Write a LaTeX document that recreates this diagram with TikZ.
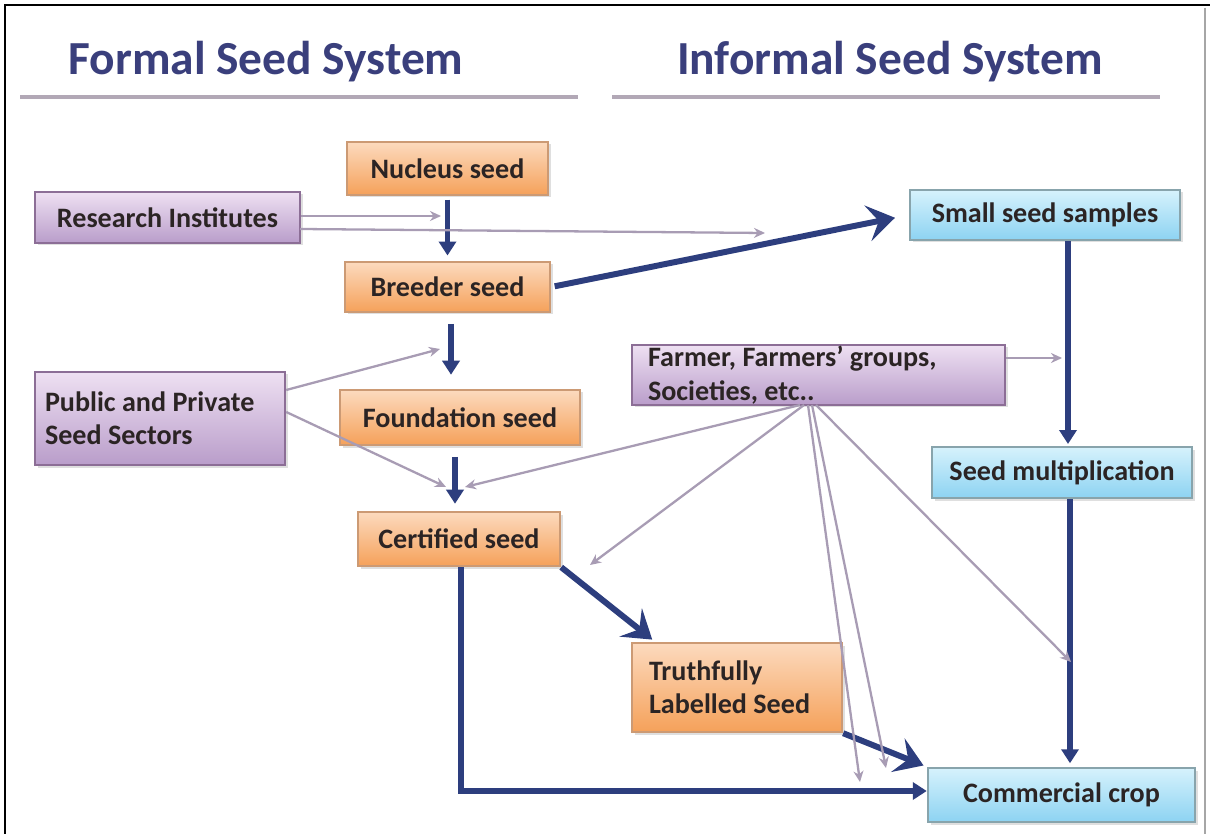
\documentclass[tikz,border=0pt]{standalone}
\usepackage{fontspec}
\setmainfont{Carlito}
\usetikzlibrary{arrows.meta,shadows}

\definecolor{navy}{HTML}{2D3E7E}
\definecolor{mauve}{HTML}{A89CB4}
\definecolor{titleblue}{HTML}{3A3F7C}
\definecolor{rulegray}{HTML}{B2A8B6}
\definecolor{orTop}{HTML}{FCDABE}
\definecolor{orBot}{HTML}{F5A15A}
\definecolor{orLine}{HTML}{CC9A74}
\definecolor{puTop}{HTML}{EEE0F2}
\definecolor{puBot}{HTML}{B99DCA}
\definecolor{puLine}{HTML}{8C6E96}
\definecolor{blTop}{HTML}{D6F2FC}
\definecolor{blBot}{HTML}{8DD3F2}
\definecolor{blLine}{HTML}{88A4AC}
\definecolor{boxtext}{HTML}{2B2424}

\tikzset{
  box/.style={rectangle, line width=1.4pt, inner sep=0pt,
    font=\fontsize{16}{19}\selectfont\bfseries, text=boxtext,
    drop shadow={shadow xshift=0.05cm, shadow yshift=-0.05cm, opacity=0.25}},
  orangebox/.style={box, draw=orLine, top color=orTop, bottom color=orBot},
  purplebox/.style={box, draw=puLine, top color=puTop, bottom color=puBot},
  bluebox/.style={box, draw=blLine, top color=blTop, bottom color=blBot},
  flow/.style={draw=navy, line width=3.4pt,
    -{Triangle[length=0.28cm, width=0.34cm]}},
  bigflow/.style={draw=navy, line width=3.4pt,
    -{Stealth[length=0.55cm, width=0.72cm, inset=0.22cm]}},
  thin/.style={draw=mauve, line width=1.3pt,
    -{Stealth[length=0.22cm, width=0.2cm]}},
  heading/.style={font=\fontsize{27}{30}\selectfont\bfseries, text=titleblue},
}

\begin{document}
\begin{tikzpicture}[x=0.02cm, y=-0.02cm]
\useasboundingbox (0,0) rectangle (1210,834);
\fill[white] (0,0) rectangle (1210,834);

% frame
\draw[black, line width=1.6pt] (5,834) -- (5,5) -- (1210,5);
\draw[gray!70, line width=0.8pt] (1205,8) -- (1205,834);

% headings and rules
\node[heading] (hformal) at (266,62) {Formal Seed System};
\node[heading] (hinformal) at (890,62) {Informal Seed System};
\draw[rulegray, line width=1.8pt] (20,97) -- (578,97);
\draw[rulegray, line width=1.8pt] (612,97) -- (1160,97);

% formal chain
\node[orangebox, minimum width=201*0.02cm, minimum height=53*0.02cm] (nucleus) at (447.5,168.5) {Nucleus seed};
\node[orangebox, minimum width=205*0.02cm, minimum height=50*0.02cm] (breeder) at (447.5,287) {Breeder seed};
\node[orangebox, minimum width=240*0.02cm, minimum height=55*0.02cm] (foundation) at (460,417.5) {Foundation seed};
\node[orangebox, minimum width=202*0.02cm, minimum height=54*0.02cm] (certified) at (459,539) {Certified seed};
\node[orangebox, inner xsep=17*0.02cm, text width=176*0.02cm, minimum height=89*0.02cm, align=flush left] (truthful) at (737,687.5) {Truthfully\\Labelled Seed};

% actors
\node[purplebox, minimum width=265*0.02cm, minimum height=51*0.02cm] (research) at (167.5,217.5) {Research Institutes};
\node[purplebox, inner xsep=10*0.02cm, text width=230*0.02cm, minimum height=93*0.02cm, align=flush left] (public) at (160,418.5) {Public and Private\\Seed Sectors};
\node[purplebox, inner xsep=16*0.02cm, text width=341*0.02cm, minimum height=60*0.02cm, align=flush left] (farmer) at (818.5,375) {Farmer, Farmers' groups,\\Societies, etc..};

% informal chain
\node[bluebox, minimum width=270*0.02cm, minimum height=50*0.02cm] (samples) at (1045,215) {Small seed samples};
\node[bluebox, minimum width=260*0.02cm, minimum height=51*0.02cm] (multiply) at (1062,472.5) {Seed multiplication};
\node[bluebox, minimum width=267*0.02cm, minimum height=54*0.02cm] (commercial) at (1061.5,795) {Commercial crop};

% points where thin lines meet the main flow
\coordinate (rA) at (441,216);
\coordinate (rB) at (765,233);
\coordinate (pA) at (440,349);
\coordinate (pB) at (446,487);
\coordinate (fA) at (465,487);
\coordinate (fB) at (590,565);
\coordinate (fC) at (860,782);
\coordinate (fD) at (886,768);
\coordinate (fE) at (1071,662);
\coordinate (fS) at (1062,358);
\coordinate (bend) at (461,791);

% main flow
\draw[flow, shorten <=2pt, shorten >=3pt] (nucleus.south) -- (breeder.north);
\draw[flow, shorten <=6pt, shorten >=8pt] (breeder.south -| 451,0) -- (foundation.north -| 451,0);
\draw[flow, shorten <=6pt, shorten >=4pt] (foundation.south -| 455,0) -- (certified.north -| 455,0);
\draw[bigflow, shorten <=2pt, shorten >=8pt] (breeder.east) -- (samples.west);
\draw[flow, shorten >=1pt] (samples.south -| 1068,0) -- (multiply.north -| 1068,0);
\draw[flow, shorten >=2pt] (multiply.south -| 1070,0) -- (commercial.north -| 1070,0);
\draw[bigflow, shorten >=2pt] (certified.south east) -- (truthful.north west -| 655,0);
\draw[bigflow, shorten >=2pt] (truthful.south east) -- (commercial.north west);
\draw[flow] (certified.south -| bend) -- (bend) -- (commercial.west |- bend);

% thin links
\draw[thin] (research.east |- rA) -- (rA);
\draw[thin] (300,229) -- (rB);
\draw[thin] (public.east |- 0,390) -- (pA);
\draw[thin] (public.east |- 0,412) -- (pB);
\draw[thin] (farmer.east |- fS) -- (fS);
\draw[thin] (800,405) -- (fA);
\draw[thin] (804,405) -- (fB);
\draw[thin] (808,405) -- (fC);
\draw[thin] (812,405) -- (fD);
\draw[thin] (816,405) -- (fE);
\end{tikzpicture}
\end{document}
